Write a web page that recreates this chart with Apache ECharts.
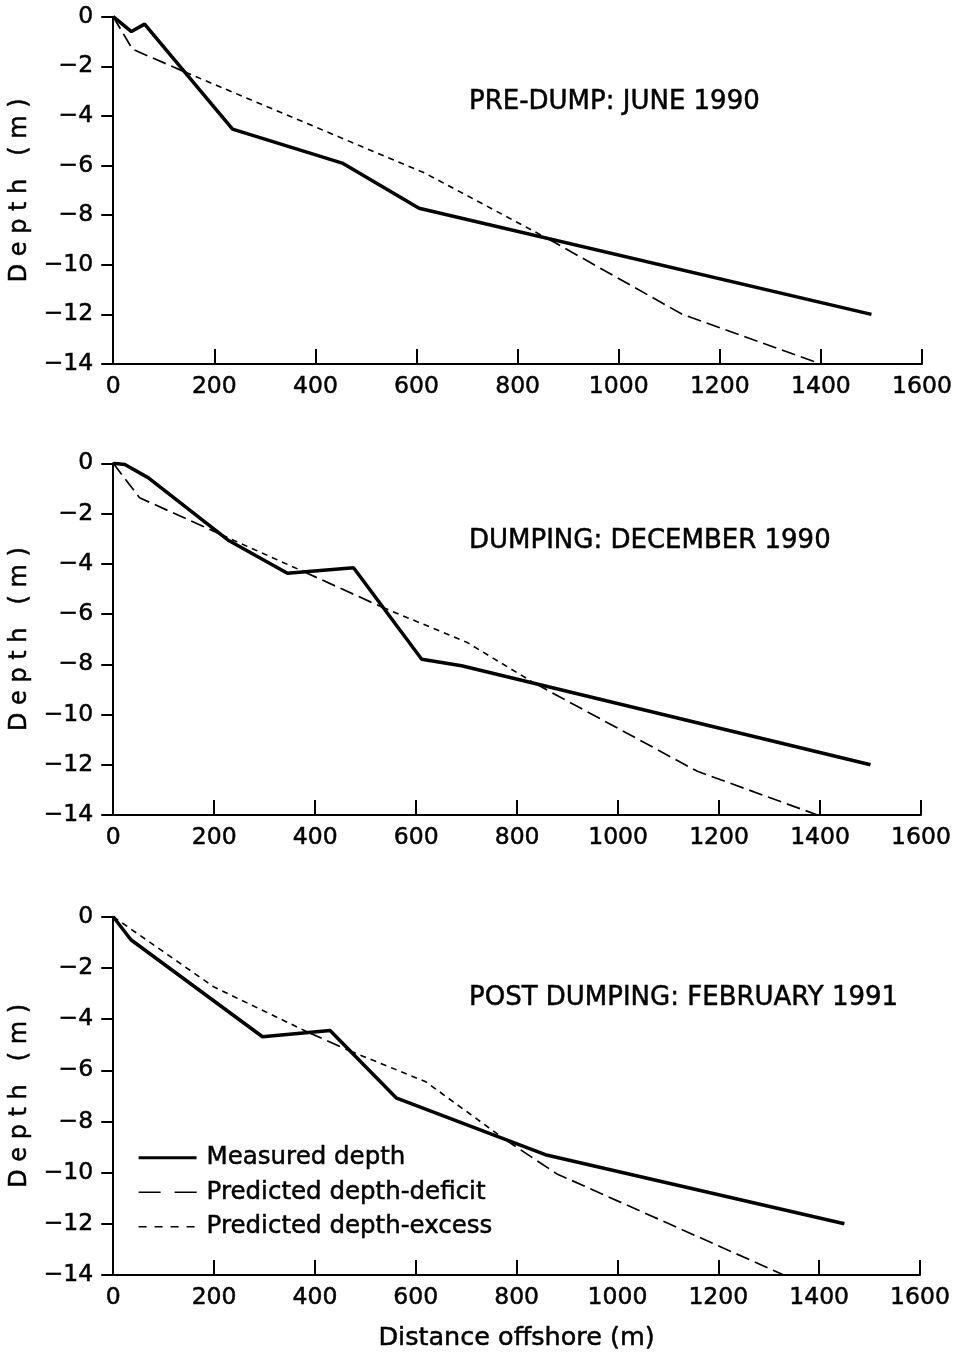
<!DOCTYPE html>
<html>
<head>
<meta charset="utf-8">
<title>Depth profiles</title>
<script src="https://cdn.jsdelivr.net/npm/echarts@6/dist/echarts.min.js"></script>
<style>
  html, body { margin: 0; padding: 0; background: #fff; }
  #id { width: 957px; height: 1354px; }
</style>
</head>
<body>
<div id="id"></div>
<script>
// panel titles
var panelTitles = ['PRE-DUMP: JUNE 1990', 'DUMPING: DECEMBER 1990', 'POST DUMPING: FEBRUARY 1991'];

// measured depth [distance m, depth m]
var measured1 = [[0, 0], [36, -0.6], [62, -0.3], [236, -4.53], [453, -5.9], [605, -7.72], [1500, -12]];
var measured2 = [[0, 0], [23, -0.05], [69, -0.57], [227, -3.05], [345, -4.38], [476, -4.16], [611, -7.8], [690, -8.06], [1500, -12]];
var measured3 = [[0, 0], [35, -0.9], [296, -4.69], [430, -4.45], [562, -7.09], [857, -9.3], [1450, -12]];

// predicted depth, split where it is below (deficit) or above (excess) the measured line
var deficit1 = [[[0, 0], [38, -1.31], [143, -2.24]], [[860, -8.95], [1126, -12], [1400, -14]]];
var excess1 = [[[143, -2.24], [617, -6.31], [860, -8.95]]];

var deficit2 = [[[0, 0], [52, -1.37], [215, -2.85]], [[378, -4.32], [534, -5.74]], [[835, -8.76], [1157, -12.26], [1395, -14]]];
var excess2 = [[[215, -2.85], [378, -4.32]], [[534, -5.74], [700, -7.12], [835, -8.76]]];

var deficit3 = [[[388, -4.53], [470, -5.25]], [[775, -8.68], [880, -10.05], [1330, -14]]];
var excess3 = [[[0, 0], [200, -2.75], [388, -4.53]], [[470, -5.25], [620, -6.45], [775, -8.68]]];

var seriesNames = ['Measured depth', 'Predicted depth-deficit', 'Predicted depth-excess'];

(function () {
    var FONT = 'DejaVu Sans';
    var INK = '#000';
    var longDash = [14, 6];
    var shortDash = [6, 5];

    // a thin outline makes the text look like the heavy print of the original
    function txt(size) {
        return { fontFamily: FONT, fontSize: size, color: INK, fontWeight: 'normal',
                 textBorderColor: INK, textBorderWidth: 0.5 };
    }

    function initial() {
        loadDepthChart();
    }

    function loadDepthChart() {
        var chartDom = document.getElementById('id');
        var myChart = echarts.init(chartDom, null, { renderer: 'canvas' });

        var measured = [measured1, measured2, measured3];
        var deficit = [deficit1, deficit2, deficit3];
        var excess = [excess1, excess2, excess3];

        var grids = [
            { left: 110, right: 35, top: 16.7, height: 347.3 },
            { left: 110, right: 36, top: 463.3, height: 351.7 },
            { left: 108.5, right: 37, top: 916.7, height: 358.3 }
        ];
        var titleTops = [89, 528, 985];

        var xAxes = [], yAxes = [], series = [], titles = [];

        for (var i = 0; i < 3; i++) {
            xAxes.push({
                type: 'value',
                gridIndex: i,
                min: 0,
                max: 1600,
                interval: 200,
                name: i === 2 ? 'Distance offshore (m)' : '',
                nameLocation: 'middle',
                nameGap: 50,
                nameTextStyle: txt(25.5),
                axisLine: { onZero: false, lineStyle: { color: '#000', width: 2 } },
                axisTick: { inside: true, length: 15, lineStyle: { color: '#000', width: 2 } },
                axisLabel: Object.assign(txt(23.5), {
                    margin: 11,
                    formatter: function (v) { return String(v); }
                }),
                splitLine: { show: false }
            });
            yAxes.push({
                type: 'value',
                gridIndex: i,
                min: -14,
                max: 0,
                interval: 2,
                name: 'D e p t h   ( m )',
                nameLocation: 'middle',
                nameRotate: 90,
                nameGap: 78,
                nameTextStyle: txt(24),
                axisLine: { onZero: false, lineStyle: { color: '#000', width: 2 } },
                axisTick: { inside: false, length: 12, lineStyle: { color: '#000', width: 2 } },
                axisLabel: Object.assign(txt(23.5), {
                    margin: 20,
                    formatter: function (v) { return String(v).replace('-', '\u2212'); }
                }),
                splitLine: { show: false }
            });
            titles.push({
                text: panelTitles[i],
                left: 469,
                top: titleTops[i],
                padding: 0,
                textStyle: txt(26)
            });

            series.push({
                name: seriesNames[0],
                type: 'line',
                xAxisIndex: i,
                yAxisIndex: i,
                data: measured[i],
                symbol: 'none',
                z: 3,
                itemStyle: { color: '#000' },
                lineStyle: { color: '#000', width: 3.5, type: 'solid' }
            });
            deficit[i].forEach(function (seg) {
                series.push({
                    name: seriesNames[1],
                    type: 'line',
                    xAxisIndex: i,
                    yAxisIndex: i,
                    data: seg,
                    symbol: 'none',
                    itemStyle: { color: '#000' },
                    lineStyle: { color: '#000', width: 1.7, type: longDash }
                });
            });
            excess[i].forEach(function (seg) {
                series.push({
                    name: seriesNames[2],
                    type: 'line',
                    xAxisIndex: i,
                    yAxisIndex: i,
                    data: seg,
                    symbol: 'none',
                    itemStyle: { color: '#000' },
                    lineStyle: { color: '#000', width: 1.6, type: shortDash }
                });
            });
        }

        var option = {
            animation: false,
            backgroundColor: '#fff',
            title: titles,
            legend: {
                orient: 'vertical',
                left: 137,
                top: 1145,
                padding: 0,
                itemWidth: 58,
                itemHeight: 14,
                itemGap: 9,
                selectedMode: false,
                itemStyle: { opacity: 0 },
                textStyle: Object.assign(txt(24.5), { padding: [0, 0, 0, 5] }),
                data: [
                    { name: seriesNames[0], itemStyle: { opacity: 0 }, lineStyle: { width: 3.2, type: 'solid' } },
                    { name: seriesNames[1], itemStyle: { opacity: 0 }, lineStyle: { width: 1.7, type: [22, 14] } },
                    { name: seriesNames[2], itemStyle: { opacity: 0 }, lineStyle: { width: 1.6, type: [8, 8] } }
                ]
            },
            grid: grids,
            xAxis: xAxes,
            yAxis: yAxes,
            series: series
        };

        option && myChart.setOption(option);
    }

    initial();
})();
</script>
</body>
</html>
